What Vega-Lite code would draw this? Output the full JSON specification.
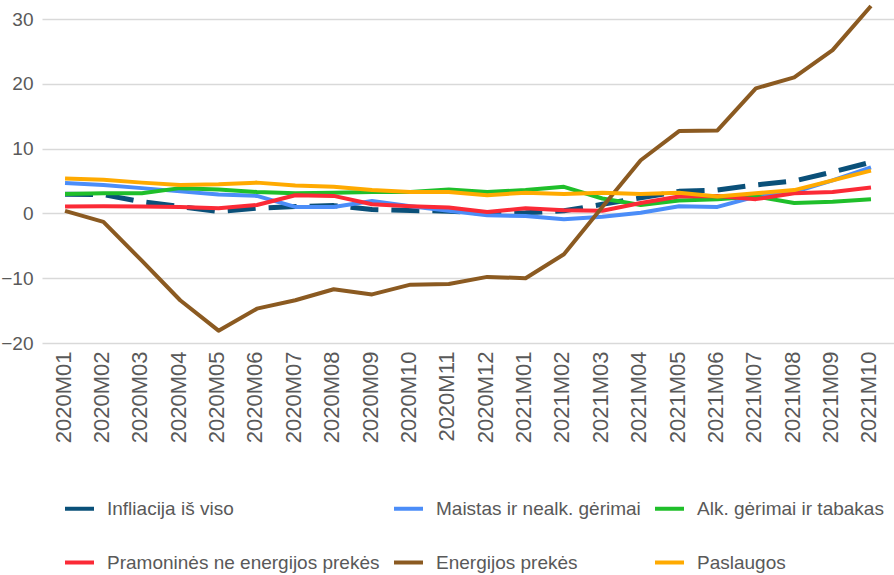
{
  "$schema": "https://vega.github.io/schema/vega-lite/v6.json",
  "autosize": "none",
  "width": 852,
  "height": 324,
  "padding": {"left": 42, "top": 19, "right": 0, "bottom": 232},
  "background": "white",
  "config": {"view": {"stroke": null}},
  "data": {"values": [
    {"m":"2020M01","s":"Infliacija iš viso","v":2.95},
    {"m":"2020M02","s":"Infliacija iš viso","v":2.9},
    {"m":"2020M03","s":"Infliacija iš viso","v":1.8},
    {"m":"2020M04","s":"Infliacija iš viso","v":1.05},
    {"m":"2020M05","s":"Infliacija iš viso","v":0.3},
    {"m":"2020M06","s":"Infliacija iš viso","v":0.8},
    {"m":"2020M07","s":"Infliacija iš viso","v":1.05},
    {"m":"2020M08","s":"Infliacija iš viso","v":1.2},
    {"m":"2020M09","s":"Infliacija iš viso","v":0.6},
    {"m":"2020M10","s":"Infliacija iš viso","v":0.45},
    {"m":"2020M11","s":"Infliacija iš viso","v":0.35},
    {"m":"2020M12","s":"Infliacija iš viso","v":0.0},
    {"m":"2021M01","s":"Infliacija iš viso","v":0.1},
    {"m":"2021M02","s":"Infliacija iš viso","v":0.4},
    {"m":"2021M03","s":"Infliacija iš viso","v":1.4},
    {"m":"2021M04","s":"Infliacija iš viso","v":2.4},
    {"m":"2021M05","s":"Infliacija iš viso","v":3.4},
    {"m":"2021M06","s":"Infliacija iš viso","v":3.6},
    {"m":"2021M07","s":"Infliacija iš viso","v":4.4},
    {"m":"2021M08","s":"Infliacija iš viso","v":5.0},
    {"m":"2021M09","s":"Infliacija iš viso","v":6.4},
    {"m":"2021M10","s":"Infliacija iš viso","v":7.9},

    {"m":"2020M01","s":"Maistas ir nealk. gėrimai","v":4.7},
    {"m":"2020M02","s":"Maistas ir nealk. gėrimai","v":4.4},
    {"m":"2020M03","s":"Maistas ir nealk. gėrimai","v":3.9},
    {"m":"2020M04","s":"Maistas ir nealk. gėrimai","v":3.4},
    {"m":"2020M05","s":"Maistas ir nealk. gėrimai","v":2.9},
    {"m":"2020M06","s":"Maistas ir nealk. gėrimai","v":2.7},
    {"m":"2020M07","s":"Maistas ir nealk. gėrimai","v":1.0},
    {"m":"2020M08","s":"Maistas ir nealk. gėrimai","v":1.0},
    {"m":"2020M09","s":"Maistas ir nealk. gėrimai","v":1.9},
    {"m":"2020M10","s":"Maistas ir nealk. gėrimai","v":1.1},
    {"m":"2020M11","s":"Maistas ir nealk. gėrimai","v":0.4},
    {"m":"2020M12","s":"Maistas ir nealk. gėrimai","v":-0.3},
    {"m":"2021M01","s":"Maistas ir nealk. gėrimai","v":-0.4},
    {"m":"2021M02","s":"Maistas ir nealk. gėrimai","v":-0.9},
    {"m":"2021M03","s":"Maistas ir nealk. gėrimai","v":-0.5},
    {"m":"2021M04","s":"Maistas ir nealk. gėrimai","v":0.1},
    {"m":"2021M05","s":"Maistas ir nealk. gėrimai","v":1.1},
    {"m":"2021M06","s":"Maistas ir nealk. gėrimai","v":1.0},
    {"m":"2021M07","s":"Maistas ir nealk. gėrimai","v":2.6},
    {"m":"2021M08","s":"Maistas ir nealk. gėrimai","v":3.3},
    {"m":"2021M09","s":"Maistas ir nealk. gėrimai","v":5.1},
    {"m":"2021M10","s":"Maistas ir nealk. gėrimai","v":7.1},

    {"m":"2020M01","s":"Alk. gėrimai ir tabakas","v":3.0},
    {"m":"2020M02","s":"Alk. gėrimai ir tabakas","v":3.1},
    {"m":"2020M03","s":"Alk. gėrimai ir tabakas","v":3.1},
    {"m":"2020M04","s":"Alk. gėrimai ir tabakas","v":3.9},
    {"m":"2020M05","s":"Alk. gėrimai ir tabakas","v":3.7},
    {"m":"2020M06","s":"Alk. gėrimai ir tabakas","v":3.3},
    {"m":"2020M07","s":"Alk. gėrimai ir tabakas","v":3.1},
    {"m":"2020M08","s":"Alk. gėrimai ir tabakas","v":3.2},
    {"m":"2020M09","s":"Alk. gėrimai ir tabakas","v":3.3},
    {"m":"2020M10","s":"Alk. gėrimai ir tabakas","v":3.3},
    {"m":"2020M11","s":"Alk. gėrimai ir tabakas","v":3.7},
    {"m":"2020M12","s":"Alk. gėrimai ir tabakas","v":3.3},
    {"m":"2021M01","s":"Alk. gėrimai ir tabakas","v":3.6},
    {"m":"2021M02","s":"Alk. gėrimai ir tabakas","v":4.1},
    {"m":"2021M03","s":"Alk. gėrimai ir tabakas","v":2.3},
    {"m":"2021M04","s":"Alk. gėrimai ir tabakas","v":1.3},
    {"m":"2021M05","s":"Alk. gėrimai ir tabakas","v":2.0},
    {"m":"2021M06","s":"Alk. gėrimai ir tabakas","v":2.2},
    {"m":"2021M07","s":"Alk. gėrimai ir tabakas","v":2.6},
    {"m":"2021M08","s":"Alk. gėrimai ir tabakas","v":1.6},
    {"m":"2021M09","s":"Alk. gėrimai ir tabakas","v":1.8},
    {"m":"2021M10","s":"Alk. gėrimai ir tabakas","v":2.2},

    {"m":"2020M01","s":"Pramoninės ne energijos prekės","v":1.05},
    {"m":"2020M02","s":"Pramoninės ne energijos prekės","v":1.1},
    {"m":"2020M03","s":"Pramoninės ne energijos prekės","v":1.05},
    {"m":"2020M04","s":"Pramoninės ne energijos prekės","v":1.0},
    {"m":"2020M05","s":"Pramoninės ne energijos prekės","v":0.8},
    {"m":"2020M06","s":"Pramoninės ne energijos prekės","v":1.3},
    {"m":"2020M07","s":"Pramoninės ne energijos prekės","v":2.8},
    {"m":"2020M08","s":"Pramoninės ne energijos prekės","v":2.7},
    {"m":"2020M09","s":"Pramoninės ne energijos prekės","v":1.4},
    {"m":"2020M10","s":"Pramoninės ne energijos prekės","v":1.1},
    {"m":"2020M11","s":"Pramoninės ne energijos prekės","v":0.9},
    {"m":"2020M12","s":"Pramoninės ne energijos prekės","v":0.2},
    {"m":"2021M01","s":"Pramoninės ne energijos prekės","v":0.8},
    {"m":"2021M02","s":"Pramoninės ne energijos prekės","v":0.5},
    {"m":"2021M03","s":"Pramoninės ne energijos prekės","v":0.4},
    {"m":"2021M04","s":"Pramoninės ne energijos prekės","v":1.6},
    {"m":"2021M05","s":"Pramoninės ne energijos prekės","v":2.6},
    {"m":"2021M06","s":"Pramoninės ne energijos prekės","v":2.7},
    {"m":"2021M07","s":"Pramoninės ne energijos prekės","v":2.2},
    {"m":"2021M08","s":"Pramoninės ne energijos prekės","v":3.1},
    {"m":"2021M09","s":"Pramoninės ne energijos prekės","v":3.3},
    {"m":"2021M10","s":"Pramoninės ne energijos prekės","v":4.0},

    {"m":"2020M01","s":"Energijos prekės","v":0.4},
    {"m":"2020M02","s":"Energijos prekės","v":-1.3},
    {"m":"2020M03","s":"Energijos prekės","v":-7.3},
    {"m":"2020M04","s":"Energijos prekės","v":-13.4},
    {"m":"2020M05","s":"Energijos prekės","v":-18.1},
    {"m":"2020M06","s":"Energijos prekės","v":-14.7},
    {"m":"2020M07","s":"Energijos prekės","v":-13.4},
    {"m":"2020M08","s":"Energijos prekės","v":-11.7},
    {"m":"2020M09","s":"Energijos prekės","v":-12.5},
    {"m":"2020M10","s":"Energijos prekės","v":-11.0},
    {"m":"2020M11","s":"Energijos prekės","v":-10.9},
    {"m":"2020M12","s":"Energijos prekės","v":-9.8},
    {"m":"2021M01","s":"Energijos prekės","v":-10.0},
    {"m":"2021M02","s":"Energijos prekės","v":-6.3},
    {"m":"2021M03","s":"Energijos prekės","v":1.0},
    {"m":"2021M04","s":"Energijos prekės","v":8.2},
    {"m":"2021M05","s":"Energijos prekės","v":12.7},
    {"m":"2021M06","s":"Energijos prekės","v":12.8},
    {"m":"2021M07","s":"Energijos prekės","v":19.3},
    {"m":"2021M08","s":"Energijos prekės","v":21.0},
    {"m":"2021M09","s":"Energijos prekės","v":25.2},
    {"m":"2021M10","s":"Energijos prekės","v":32.0},

    {"m":"2020M01","s":"Paslaugos","v":5.4},
    {"m":"2020M02","s":"Paslaugos","v":5.2},
    {"m":"2020M03","s":"Paslaugos","v":4.75},
    {"m":"2020M04","s":"Paslaugos","v":4.4},
    {"m":"2020M05","s":"Paslaugos","v":4.5},
    {"m":"2020M06","s":"Paslaugos","v":4.75},
    {"m":"2020M07","s":"Paslaugos","v":4.3},
    {"m":"2020M08","s":"Paslaugos","v":4.1},
    {"m":"2020M09","s":"Paslaugos","v":3.6},
    {"m":"2020M10","s":"Paslaugos","v":3.3},
    {"m":"2020M11","s":"Paslaugos","v":3.3},
    {"m":"2020M12","s":"Paslaugos","v":2.8},
    {"m":"2021M01","s":"Paslaugos","v":3.2},
    {"m":"2021M02","s":"Paslaugos","v":3.0},
    {"m":"2021M03","s":"Paslaugos","v":3.2},
    {"m":"2021M04","s":"Paslaugos","v":3.0},
    {"m":"2021M05","s":"Paslaugos","v":3.2},
    {"m":"2021M06","s":"Paslaugos","v":2.6},
    {"m":"2021M07","s":"Paslaugos","v":3.1},
    {"m":"2021M08","s":"Paslaugos","v":3.6},
    {"m":"2021M09","s":"Paslaugos","v":5.1},
    {"m":"2021M10","s":"Paslaugos","v":6.6}
  ]},
  "encoding": {
    "x": {
      "field": "m", "type": "ordinal", "title": null,
      "scale": {"type": "point", "padding": 0.6},
      "axis": {
        "labelAngle": -90, "labelFont": "Liberation Sans", "labelFontSize": 22,
        "labelColor": "#595959", "domain": false, "ticks": false, "grid": false,
        "labelPadding": 8, "labelOffset": -2
      }
    },
    "y": {
      "field": "v", "type": "quantitative", "title": null,
      "scale": {"domain": [-20, 30], "nice": false, "zero": false},
      "axis": {
        "values": [-20, -10, 0, 10, 20, 30],
        "labelFont": "Liberation Sans", "labelFontSize": 19,
        "labelColor": "#595959", "domain": false, "ticks": false,
        "labelPadding": 9, "gridColor": "#d9d9d9", "gridWidth": 1.5
      }
    },
    "color": {
      "field": "s", "type": "nominal", "title": null,
      "scale": {
        "domain": ["Infliacija iš viso", "Maistas ir nealk. gėrimai", "Alk. gėrimai ir tabakas", "Pramoninės ne energijos prekės", "Energijos prekės", "Paslaugos"],
        "range": ["#0a5079", "#4b8df8", "#1fbf2a", "#fb2a36", "#8b5a21", "#ffaa00"]
      },
      "legend": {
        "orient": "none", "legendX": 21, "legendY": 473,
        "direction": "horizontal", "columns": 3, "columnPadding": 6, "rowPadding": 27,
        "symbolType": "stroke", "symbolSize": 841, "symbolStrokeWidth": 4,
        "labelOffset": 11, "labelFont": "Liberation Sans", "labelFontSize": 19,
        "labelColor": "#595959", "labelLimit": 500
      }
    }
  },
  "layer": [
    {
      "transform": [{"filter": "datum.s === 'Infliacija iš viso'"}],
      "mark": {"type": "line", "strokeWidth": 5, "strokeDash": [28, 13], "strokeJoin": "round"}
    },
    {
      "transform": [{"filter": "datum.s !== 'Infliacija iš viso'"}],
      "mark": {"type": "line", "strokeWidth": 4, "strokeJoin": "round"}
    }
  ]
}
